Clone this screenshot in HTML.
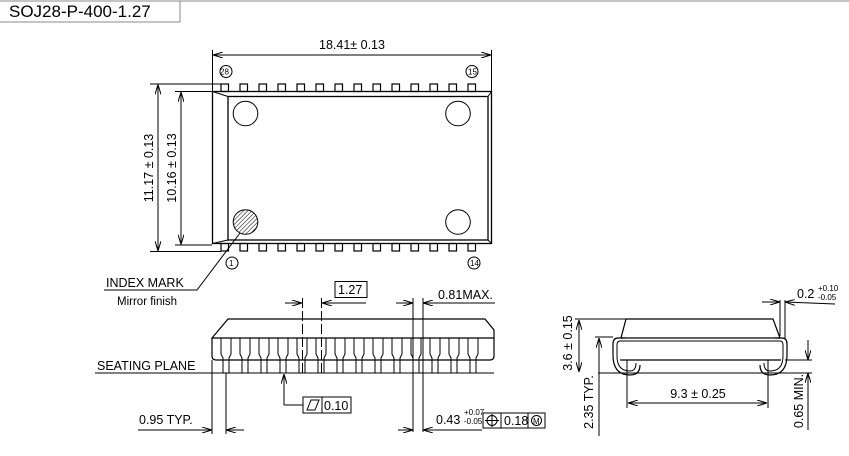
<!DOCTYPE html>
<html><head><meta charset="utf-8"><style>
html,body{margin:0;padding:0;background:#fff;}
svg{display:block;font-family:"Liberation Sans",sans-serif;}
text{fill:#000;}
</style></head><body>
<svg width="849" height="456" viewBox="0 0 849 456" xmlns="http://www.w3.org/2000/svg">
<defs>
<marker id="a" viewBox="0 0 10 6" refX="10" refY="3" markerWidth="10" markerHeight="6" orient="auto-start-reverse" markerUnits="userSpaceOnUse"><path d="M0,0 L10,3 L0,6" fill="none" stroke="#000" stroke-width="1"/></marker>
<pattern id="h" width="3" height="3" patternUnits="userSpaceOnUse" patternTransform="rotate(45)"><line x1="0" y1="0" x2="0" y2="3" stroke="#000" stroke-width="1"/></pattern>
<rect id="tp" width="7.5" height="7.5" fill="none" stroke="#000" stroke-width="1.2"/>
<path id="sp" d="M-5,338 V354 L-3,358 V373 H3 V358 L5,354 V338" fill="none" stroke="#000" stroke-width="1"/>
</defs>
<g stroke="#000" fill="none">
<!-- title -->
<line x1="0" y1="1" x2="849" y2="1" stroke="#888"/>
<path d="M0,22 H180 V1" stroke="#888"/>
</g>
<text x="9" y="17" font-size="17">SOJ28-P-400-1.27</text>

<g stroke="#000" fill="none" stroke-width="1">
<!-- top view -->
<rect x="212.5" y="91.5" width="279" height="152" stroke-width="1.3"/>
<rect x="228" y="96.5" width="260" height="143.5" stroke-width="1.3"/>
<line x1="212.5" y1="91.5" x2="228" y2="96.5"/><line x1="212.5" y1="243.5" x2="228" y2="240"/>
<line x1="491.5" y1="91.5" x2="488" y2="96.5"/><line x1="491.5" y1="243.5" x2="488" y2="240"/>
<g>
<use href="#tp" x="221" y="84"/><use href="#tp" x="240" y="84"/><use href="#tp" x="259" y="84"/><use href="#tp" x="278" y="84"/><use href="#tp" x="297" y="84"/><use href="#tp" x="316" y="84"/><use href="#tp" x="335" y="84"/><use href="#tp" x="354" y="84"/><use href="#tp" x="373" y="84"/><use href="#tp" x="392" y="84"/><use href="#tp" x="411" y="84"/><use href="#tp" x="430" y="84"/><use href="#tp" x="449" y="84"/><use href="#tp" x="468" y="84"/>
<use href="#tp" x="221" y="243.5"/><use href="#tp" x="240" y="243.5"/><use href="#tp" x="259" y="243.5"/><use href="#tp" x="278" y="243.5"/><use href="#tp" x="297" y="243.5"/><use href="#tp" x="316" y="243.5"/><use href="#tp" x="335" y="243.5"/><use href="#tp" x="354" y="243.5"/><use href="#tp" x="373" y="243.5"/><use href="#tp" x="392" y="243.5"/><use href="#tp" x="411" y="243.5"/><use href="#tp" x="430" y="243.5"/><use href="#tp" x="449" y="243.5"/><use href="#tp" x="468" y="243.5"/>
</g>
<circle cx="245.5" cy="113.5" r="12.3"/><circle cx="458" cy="113.5" r="12.3"/>
<circle cx="245.5" cy="222" r="12.3" fill="url(#h)"/><circle cx="458" cy="222" r="12.3"/>
<circle cx="226" cy="71.5" r="6"/><circle cx="472" cy="71.5" r="6"/>
<circle cx="232" cy="263" r="6"/><circle cx="474" cy="263" r="6"/>
<!-- dims top -->
<line x1="212.5" y1="50" x2="212.5" y2="91"/><line x1="491.5" y1="50" x2="491.5" y2="91"/>
<line x1="213" y1="55" x2="491" y2="55" marker-start="url(#a)" marker-end="url(#a)"/>
<line x1="150" y1="84" x2="221" y2="84"/><line x1="150" y1="251.5" x2="221" y2="251.5"/>
<line x1="158" y1="84.5" x2="158" y2="251" marker-start="url(#a)" marker-end="url(#a)"/>
<line x1="175" y1="91.5" x2="212" y2="91.5"/><line x1="175" y1="245" x2="212" y2="245"/>
<line x1="181" y1="92" x2="181" y2="244.5" marker-start="url(#a)" marker-end="url(#a)"/>
<!-- index leader -->
<polyline points="240,233 197,290 104,290"/>

<!-- side view -->
<path d="M212,338 L228,319 H485 L494,330 V338 Z" stroke-width="1.2"/>
<path d="M212,338 V356 Q212,360 216,360 H490 Q494,360 494,356 V338" stroke-width="1.2"/>
<use href="#sp" x="226"/><use href="#sp" x="245"/><use href="#sp" x="264"/><use href="#sp" x="283"/><use href="#sp" x="302"/><use href="#sp" x="321"/><use href="#sp" x="340"/><use href="#sp" x="359"/><use href="#sp" x="378"/><use href="#sp" x="397"/><use href="#sp" x="416"/><use href="#sp" x="435"/><use href="#sp" x="454"/><use href="#sp" x="473"/>
<line x1="95" y1="373" x2="494" y2="373"/>
<!-- 1.27 -->
<rect x="335" y="281.5" width="32" height="16"/>
<line x1="302.5" y1="298" x2="302.5" y2="376" stroke-dasharray="10,3"/><line x1="321.5" y1="298" x2="321.5" y2="376" stroke-dasharray="10,3"/>
<line x1="285" y1="303" x2="302" y2="303" marker-end="url(#a)"/><line x1="366" y1="303" x2="322" y2="303" marker-end="url(#a)"/>
<!-- 0.81 -->
<line x1="413" y1="298" x2="413" y2="432"/><line x1="423" y1="298" x2="423" y2="432"/>
<line x1="396" y1="303" x2="413" y2="303" marker-end="url(#a)"/><line x1="495" y1="303" x2="423" y2="303" marker-end="url(#a)"/>
<!-- 0.95 -->
<line x1="212" y1="360" x2="212" y2="434"/><line x1="226" y1="373" x2="226" y2="434"/>
<line x1="138" y1="430" x2="212" y2="430" marker-end="url(#a)"/><line x1="244" y1="430" x2="226" y2="430" marker-end="url(#a)"/>
<!-- 0.43 -->
<line x1="398" y1="430" x2="413" y2="430" marker-end="url(#a)"/><line x1="482" y1="430" x2="423" y2="430" marker-end="url(#a)"/>
<rect x="483" y="413" width="62" height="15"/>
<line x1="501" y1="413" x2="501" y2="428"/><line x1="528" y1="413" x2="528" y2="428"/>
<circle cx="492" cy="420.5" r="5"/><line x1="485" y1="420.5" x2="499" y2="420.5"/><line x1="492" y1="414" x2="492" y2="427"/>
<circle cx="536.5" cy="420.5" r="5"/>
<!-- flatness -->
<polyline points="284,405 303,405"/><line x1="284" y1="405" x2="284" y2="374" marker-end="url(#a)"/>
<rect x="303" y="397" width="48" height="16"/><line x1="322" y1="397" x2="322" y2="413"/>
<path d="M307,410 L311,400 H319 L315,410 Z"/>

<!-- end view -->
<path d="M621,338 L626,319 H773 L780,338" stroke-width="1.2"/>
<line x1="621" y1="338" x2="780" y2="338" stroke-width="1.2"/>
<line x1="621" y1="341" x2="780" y2="341"/>
<line x1="620" y1="360" x2="781" y2="360" stroke-width="1.2"/>
<path d="M625,338 H618 Q613,338 613,344 V355 Q613,375 630,375 Q640,375 640,365" stroke-width="1.2"/>
<path d="M625,341 H620 Q617,341 617,345 V356 Q617,371 630,371 Q636,371 636,363" stroke-width="1"/>
<path d="M775,338 H782 Q787,338 787,344 V355 Q787,375 770,375 Q760,375 760,365" stroke-width="1.2"/>
<path d="M775,341 H780 Q783,341 783,345 V356 Q783,371 770,371 Q764,371 764,363" stroke-width="1"/>
<line x1="598" y1="373" x2="812" y2="373"/>
<line x1="575" y1="319" x2="626" y2="319"/><line x1="579" y1="320" x2="579" y2="372" marker-start="url(#a)" marker-end="url(#a)"/>
<line x1="595" y1="337" x2="613" y2="337"/><line x1="599" y1="338" x2="599" y2="436" marker-start="url(#a)"/>
<line x1="599" y1="372" x2="599" y2="360"/>
<line x1="627" y1="360" x2="627" y2="408"/><line x1="768" y1="360" x2="768" y2="408"/>
<line x1="628" y1="403" x2="767" y2="403" marker-start="url(#a)" marker-end="url(#a)"/>
<line x1="785" y1="360" x2="812" y2="360"/>
<line x1="808" y1="340" x2="808" y2="360" marker-end="url(#a)"/><line x1="808" y1="430" x2="808" y2="373" marker-end="url(#a)"/>
<line x1="780" y1="300" x2="780" y2="336"/><line x1="785" y1="300" x2="785" y2="338"/>
<line x1="762" y1="302" x2="780" y2="302" marker-end="url(#a)"/><line x1="835" y1="304" x2="785" y2="302" marker-end="url(#a)"/>
</g>

<g font-size="12.5">
<text x="352" y="49" text-anchor="middle">18.41± 0.13</text>
<text x="220" y="74.5" font-size="8">28</text><text x="468" y="74.5" font-size="8">15</text>
<text x="229" y="266" font-size="8">1</text><text x="470" y="266" font-size="8">14</text>
<text transform="translate(153,168) rotate(-90)" text-anchor="middle">11.17 ± 0.13</text>
<text transform="translate(176,168) rotate(-90)" text-anchor="middle">10.16 ± 0.13</text>
<text x="106" y="287">INDEX MARK</text>
<text x="117" y="305" font-size="11.5">Mirror finish</text>
<text x="338" y="294">1.27</text>
<text x="438" y="299">0.81MAX.</text>
<text x="97" y="370">SEATING PLANE</text>
<text x="324" y="410">0.10</text>
<text x="139" y="424">0.95 TYP.</text>
<text x="436" y="424">0.43</text>
<text x="464" y="415" font-size="8">+0.07</text><text x="464" y="424" font-size="8">-0.05</text>
<text x="504" y="425">0.18</text>
<text x="533" y="424" font-size="8">M</text>
<text transform="translate(572,343) rotate(-90)" text-anchor="middle">3.6 ± 0.15</text>
<text transform="translate(593,402) rotate(-90)" text-anchor="middle">2.35 TYP.</text>
<text x="698" y="398" text-anchor="middle">9.3 ± 0.25</text>
<text transform="translate(803,401) rotate(-90)" text-anchor="middle">0.65 MIN.</text>
<text x="797" y="298">0.2</text>
<text x="818" y="291" font-size="8">+0.10</text><text x="818" y="300" font-size="8">-0.05</text>
</g>
</svg>
</body></html>
